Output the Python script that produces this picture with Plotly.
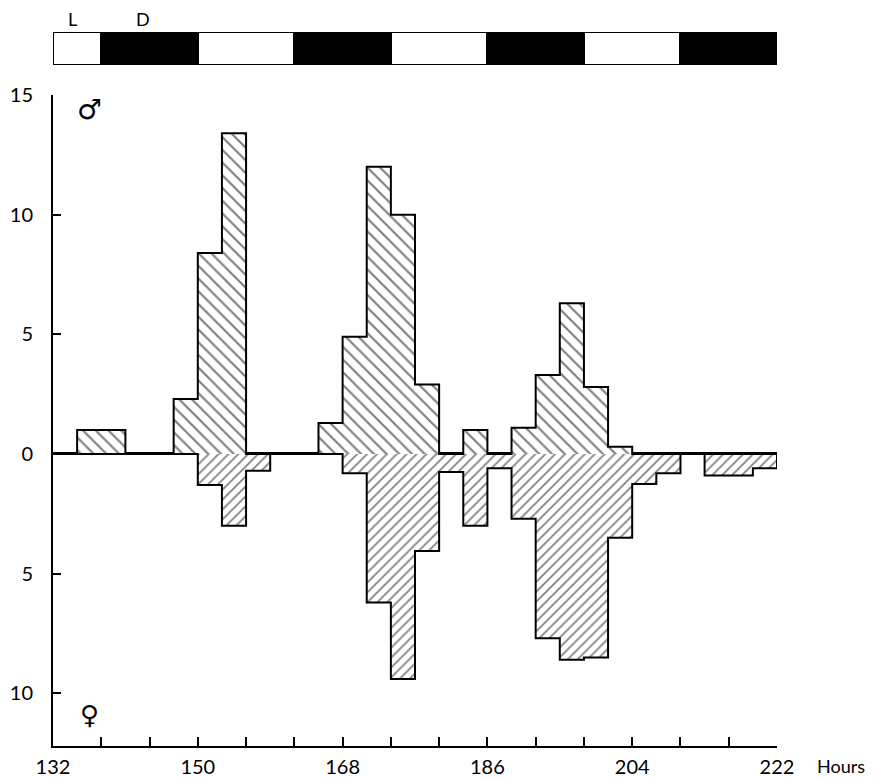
import plotly.graph_objects as go

# ---- data ----
bin_start = list(range(132, 222, 3))  # 3-hour bins
male = [0, 1.0, 1.0, 0, 0, 2.3, 8.4, 13.4, 0, 0,
        0, 1.3, 4.9, 12.0, 10.0, 2.9, 0, 1.0, 0, 1.1,
        3.3, 6.3, 2.8, 0.3, 0, 0, 0, 0, 0, 0]
female = [0, 0, 0, 0, 0, 0, 1.3, 3.0, 0.7, 0,
          0, 0, 0.8, 6.2, 9.4, 4.05, 0.75, 3.0, 0.6, 2.7,
          7.7, 8.6, 8.5, 3.5, 1.25, 0.8, 0, 0.9, 0.9, 0.6]

ld_start = [132, 138, 150, 162, 174, 186, 198, 210]
ld_end = [138, 150, 162, 174, 186, 198, 210, 222]
ld_state = ["L", "D", "L", "D", "L", "D", "L", "D"]

x_tick_vals = list(range(132, 223, 6))
x_tick_text = ["132", "", "", "150", "", "", "168", "", "", "186", "", "", "204", "", "", "222"]
y_tick_vals = [15, 10, 5, 0, -5, -10]
y_tick_text = ["15", "10", "5", "0", "5", "10"]

BW = 3
centers = [s + BW / 2 for s in bin_start]
female_neg = [-v for v in female]

FONT = "Lato"

fig = go.Figure()

# hatched bars
fig.add_trace(go.Bar(
    x=centers, y=male, width=BW,
    marker=dict(color="white", line=dict(width=0),
                pattern=dict(shape="\\", size=9, solidity=0.24, fgcolor="black", bgcolor="white")),
    hoverinfo="skip", showlegend=False))
fig.add_trace(go.Bar(
    x=centers, y=female_neg, width=BW,
    marker=dict(color="white", line=dict(width=0),
                pattern=dict(shape="/", size=7, solidity=0.24, fgcolor="black", bgcolor="white")),
    hoverinfo="skip", showlegend=False))

# histogram outlines (step lines)
edges = bin_start + [bin_start[-1] + BW]
for vals in (male, female_neg):
    fig.add_trace(go.Scatter(
        x=[edges[0]] + edges, y=[0] + list(vals) + [0],
        mode="lines", line=dict(color="black", width=2, shape="hv"),
        hoverinfo="skip", showlegend=False))

# light/dark bar
fig.add_trace(go.Bar(
    x=[(a + b) / 2 for a, b in zip(ld_start, ld_end)],
    y=[1] * len(ld_start),
    width=[b - a for a, b in zip(ld_start, ld_end)],
    marker=dict(color=["white" if s == "L" else "black" for s in ld_state],
                line=dict(color="black", width=2)),
    cliponaxis=False,
    yaxis="y2", hoverinfo="skip", showlegend=False))

fig.update_layout(
    width=883, height=771,
    margin=dict(l=45, r=114, t=20, b=33, autoexpand=False),
    paper_bgcolor="white", plot_bgcolor="white",
    barmode="overlay", bargap=0,
    font=dict(family=FONT, size=20, color="black"),
    xaxis=dict(range=[132, 222], tickvals=x_tick_vals, ticktext=x_tick_text,
               ticks="inside", ticklen=9, tickwidth=2, tickcolor="black",
               showline=True, linewidth=2, linecolor="black",
               showgrid=False, zeroline=False, ticklabelstandoff=2,
               anchor="y", automargin=False),
    yaxis=dict(domain=[0, 0.9067], range=[-12.2, 15],
               tickvals=y_tick_vals, ticktext=y_tick_text,
               ticks="inside", ticklen=8, tickwidth=2, tickcolor="black",
               showline=True, linewidth=2, linecolor="black",
               showgrid=False, zeroline=True, zerolinecolor="black", zerolinewidth=2.5,
               ticklabelstandoff=14, automargin=False),
    yaxis2=dict(domain=[0.9485, 0.9944], range=[0, 1], visible=False,
                showgrid=False, zeroline=False, automargin=False),
    annotations=[
        dict(text="L", x=134.4, y=1.0, xref="x", yref="paper", yanchor="middle",
             showarrow=False, font=dict(size=18, family=FONT), yshift=9),
        dict(text="D", x=143.2, y=1.0, xref="x", yref="paper", yanchor="middle",
             showarrow=False, font=dict(size=18, family=FONT), yshift=9),
        dict(text="♂", x=136.5, y=14.4, xref="x", yref="y", showarrow=False,
             font=dict(size=28, family="DejaVu Sans")),
        dict(text="♀", x=136.5, y=-10.9, xref="x", yref="y", showarrow=False,
             font=dict(size=26, family="DejaVu Sans")),
        dict(text="Hours", x=1.0, y=0, xref="paper", yref="paper", xanchor="left",
             yanchor="top", xshift=38, yshift=-7, showarrow=False,
             font=dict(size=18, family=FONT)),
    ],
)

fig.write_html("out.html")
